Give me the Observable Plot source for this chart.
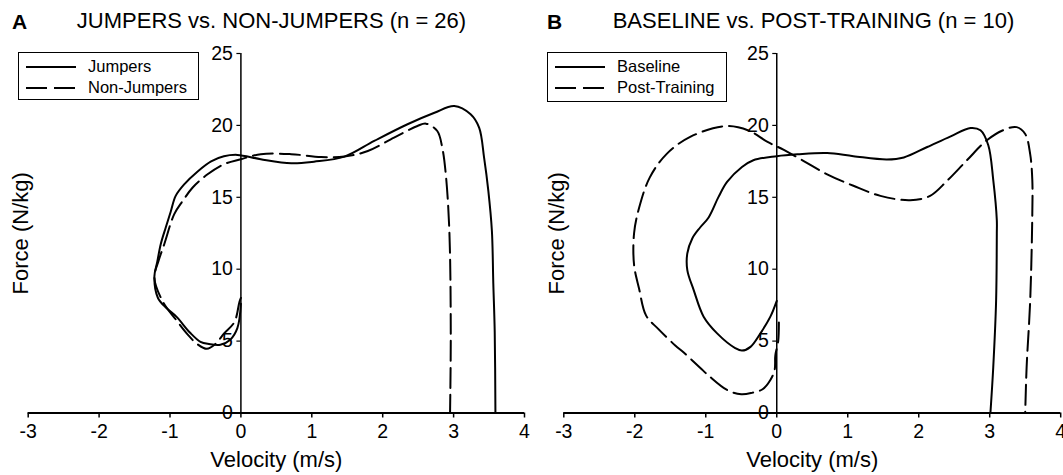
<!DOCTYPE html>
<html><head><meta charset="utf-8">
<script src="https://cdn.jsdelivr.net/npm/d3@7"></script>
<script src="https://cdn.jsdelivr.net/npm/@observablehq/plot@0.6"></script>
<style>
html,body{margin:0;padding:0;background:#fff;overflow:hidden;}
#root{position:relative;width:1063px;height:475px;font-family:"Liberation Sans",Arial,Helvetica,sans-serif;color:#000;}
.panel{position:absolute;top:0;}
.title{position:absolute;top:10px;font-size:22px;line-height:22px;white-space:nowrap;transform:translateX(-50%);}
.letter{position:absolute;top:11px;font-size:21px;line-height:21px;font-weight:bold;}
.legend{position:absolute;border:1.5px solid #000;background:#fff;box-sizing:border-box;}
.legend .lab{position:absolute;left:69px;font-size:16.5px;line-height:18px;white-space:nowrap;}
.legend svg{position:absolute;left:0;top:0;}
</style></head><body><div id="root"></div>
<script>
// ---- axis ticks & labels ----
const xTicks = [-3, -2, -1, 0, 1, 2, 3, 4];
const yTicks = [0, 5, 10, 15, 20, 25];
const xLabel = "Velocity (m/s)";
const yLabel = "Force (N/kg)";

// ---- Panel A: Jumpers vs Non-Jumpers ----
const titleA = "JUMPERS vs. NON-JUMPERS (n = 26)";
const letterA = "A";
const seriesA = ["Jumpers", "Non-Jumpers"];
const jumpersV = [0, -0.05, -0.15, -0.29, -0.45, -0.57, -0.72, -0.91, -1.05, -1.17, -1.22, -1.18, -1.13, -1.06, -0.99, -0.92, -0.80, -0.61, -0.42, -0.24, -0.05, 0.28, 0.71, 1.03, 1.46, 1.88, 2.35, 2.73, 3.01, 3.24, 3.36, 3.43, 3.49, 3.54, 3.56, 3.58, 3.59];
const jumpersF = [7.6, 5.9, 5.1, 4.75, 4.8, 4.95, 5.6, 6.7, 7.3, 8.0, 9.5, 10.5, 11.75, 12.9, 14.0, 15.1, 15.9, 16.8, 17.5, 17.85, 17.95, 17.65, 17.37, 17.48, 17.83, 18.92, 20.08, 20.88, 21.35, 20.77, 19.84, 17.76, 15.45, 12.67, 9.0, 5.64, 0];
const nonJumpersV = [0, -0.02, -0.09, -0.24, -0.36, -0.48, -0.62, -0.74, -0.91, -1.10, -1.22, -1.16, -1.08, -0.94, -0.82, -0.68, -0.47, -0.24, 0, 0.28, 0.71, 1.13, 1.46, 1.79, 2.16, 2.49, 2.61, 2.77, 2.84, 2.89, 2.94, 2.96, 2.95];
const nonJumpersF = [8.0, 7.74, 6.34, 5.52, 4.8, 4.46, 4.81, 5.40, 6.45, 7.74, 9.39, 10.6, 11.75, 13.83, 14.75, 15.68, 16.6, 17.3, 17.65, 18.0, 18.0, 17.8, 17.83, 18.22, 19.15, 19.96, 20.12, 19.61, 18.45, 16.6, 12.67, 5.64, 0];

// ---- Panel B: Baseline vs Post-Training ----
const titleB = "BASELINE vs. POST-TRAINING (n = 10)";
const letterB = "B";
const seriesB = ["Baseline", "Post-Training"];
const baselineV = [0, -0.09, -0.23, -0.37, -0.49, -0.58, -0.84, -1.03, -1.17, -1.26, -1.26, -1.19, -1.08, -0.96, -0.82, -0.70, -0.49, -0.33, 0, 0.29, 0.71, 1.08, 1.55, 1.79, 2.12, 2.45, 2.73, 2.87, 2.98, 3.05, 3.10, 3.10, 3.09, 3.05, 3.01];
const baselineF = [7.8, 6.7, 5.54, 4.6, 4.34, 4.5, 5.54, 6.7, 8.55, 9.94, 11.1, 12.14, 12.9, 13.6, 15.03, 16.07, 17.11, 17.58, 17.86, 17.99, 18.08, 17.86, 17.63, 17.77, 18.5, 19.24, 19.82, 19.66, 18.62, 16.19, 13.41, 12.5, 7.8, 3.2, 0];
const postV = [0.03, 0.02, -0.02, -0.03, -0.09, -0.2, -0.35, -0.50, -0.70, -0.96, -1.08, -1.31, -1.43, -1.67, -1.84, -1.94, -2.01, -2.01, -1.94, -1.79, -1.55, -1.22, -0.72, -0.39, -0.13, 0.10, 0.38, 0.71, 1.08, 1.46, 1.88, 2.16, 2.40, 2.68, 2.96, 3.20, 3.38, 3.50, 3.57, 3.60, 3.60, 3.57, 3.52, 3.50];
const postF = [6.3, 5.0, 4.0, 3.0, 2.3, 1.65, 1.4, 1.3, 1.6, 2.6, 3.15, 4.2, 4.7, 5.85, 6.77, 8.66, 10.3, 12.5, 14.25, 16.37, 18.02, 19.2, 19.95, 19.63, 18.85, 18.3, 17.52, 16.6, 15.8, 15.1, 14.8, 15.1, 16.15, 17.58, 18.97, 19.69, 19.88, 19.4, 18.0, 16.2, 13.85, 7.8, 3.2, 0];

const toRows = (vs, fs) => vs.map((v, i) => ({v, F: fs[i]}));

const FONT = '"Liberation Sans", Arial, Helvetica, sans-serif';
const H = 475, MT = 53, MB = 62.5;
const xDomain = [-3, 4], yDomain = [0, 25];

const panels = [
  {left: 0, width: 531, mL: 27.7, mR: 7, letter: letterA, title: titleA, letterX: 12, titleX: 271.5,
   names: seriesA, solid: toRows(jumpersV, jumpersF), dashed: toRows(nonJumpersV, nonJumpersF),
   legend: {left: 18, top: 52, width: 181, height: 48}},
  {left: 531, width: 532, mL: 32.3, mR: 2.8, letter: letterB, title: titleB, letterX: 547, titleX: 813.5,
   names: seriesB, solid: toRows(baselineV, baselineF), dashed: toRows(postV, postF),
   legend: {left: 547, top: 52, width: 180, height: 50}}
];

const root = document.getElementById("root");

for (const p of panels) {
  const plotW = p.width - p.mL - p.mR;
  const shift = (0 - xDomain[0]) / (xDomain[1] - xDomain[0]) * plotW;
  const chart = Plot.plot({
    width: p.width, height: H,
    marginLeft: p.mL, marginRight: p.mR, marginTop: MT, marginBottom: MB,
    x: {domain: xDomain},
    y: {domain: yDomain},
    style: {fontFamily: FONT, fontSize: "19.5px", color: "#000", background: "transparent", overflow: "visible"},
    marks: [
      Plot.axisX(xTicks, {tickSize: 5, tickPadding: 6, strokeWidth: 1.5, tickFormat: d => String(d), label: null, fontSize: 19.5}),
      Plot.axisY(yTicks, {anchor: "left", dx: shift, tickSize: 4, tickPadding: 4, strokeWidth: 1.2, tickFormat: d => String(d), label: null, fontSize: 19.5}),
      Plot.ruleY([0], {stroke: "#000", strokeWidth: 2}),
      Plot.ruleX([0], {y1: yDomain[0], y2: yDomain[1], stroke: "#000", strokeWidth: 1.5}),
      Plot.line(p.solid, {x: "v", y: "F", stroke: "#000", strokeWidth: 2, curve: "catmull-rom"}),
      Plot.line(p.dashed, {x: "v", y: "F", stroke: "#000", strokeWidth: 2, strokeDasharray: "20,7", curve: "catmull-rom"}),
      Plot.text([xLabel], {text: d => d, frameAnchor: "bottom", lineAnchor: "middle", textAnchor: "middle", dy: 47, fontSize: 22, fill: "#000"}),
      Plot.text([yLabel], {text: d => d, frameAnchor: "left", lineAnchor: "middle", textAnchor: "middle", rotate: -90, dx: -7, fontSize: 22, fill: "#000"})
    ]
  });
  const wrap = document.createElement("div");
  wrap.className = "panel";
  wrap.style.left = p.left + "px";
  wrap.appendChild(chart);
  root.appendChild(wrap);

  const L = document.createElement("div");
  L.className = "letter"; L.style.left = p.letterX + "px"; L.textContent = p.letter;
  root.appendChild(L);
  const T = document.createElement("div");
  T.className = "title"; T.style.left = p.titleX + "px"; T.textContent = p.title;
  root.appendChild(T);

  // legend
  const lg = document.createElement("div");
  lg.className = "legend";
  Object.assign(lg.style, {left: p.legend.left + "px", top: p.legend.top + "px", width: p.legend.width + "px", height: p.legend.height + "px"});
  const rowsY = [14, 35];
  const ns = "http://www.w3.org/2000/svg";
  const svg = document.createElementNS(ns, "svg");
  svg.setAttribute("width", 66); svg.setAttribute("height", p.legend.height);
  p.names.forEach((name, i) => {
    const ln = document.createElementNS(ns, "line");
    ln.setAttribute("x1", 7); ln.setAttribute("x2", 57);
    ln.setAttribute("y1", rowsY[i]); ln.setAttribute("y2", rowsY[i]);
    ln.setAttribute("stroke", "#000"); ln.setAttribute("stroke-width", 2);
    if (i === 1) ln.setAttribute("stroke-dasharray", "21,7");
    svg.appendChild(ln);
    const t = document.createElement("div");
    t.className = "lab"; t.style.top = (rowsY[i] - 10) + "px"; t.textContent = name;
    lg.appendChild(t);
  });
  lg.appendChild(svg);
  root.appendChild(lg);
}
</script>
</body></html>
